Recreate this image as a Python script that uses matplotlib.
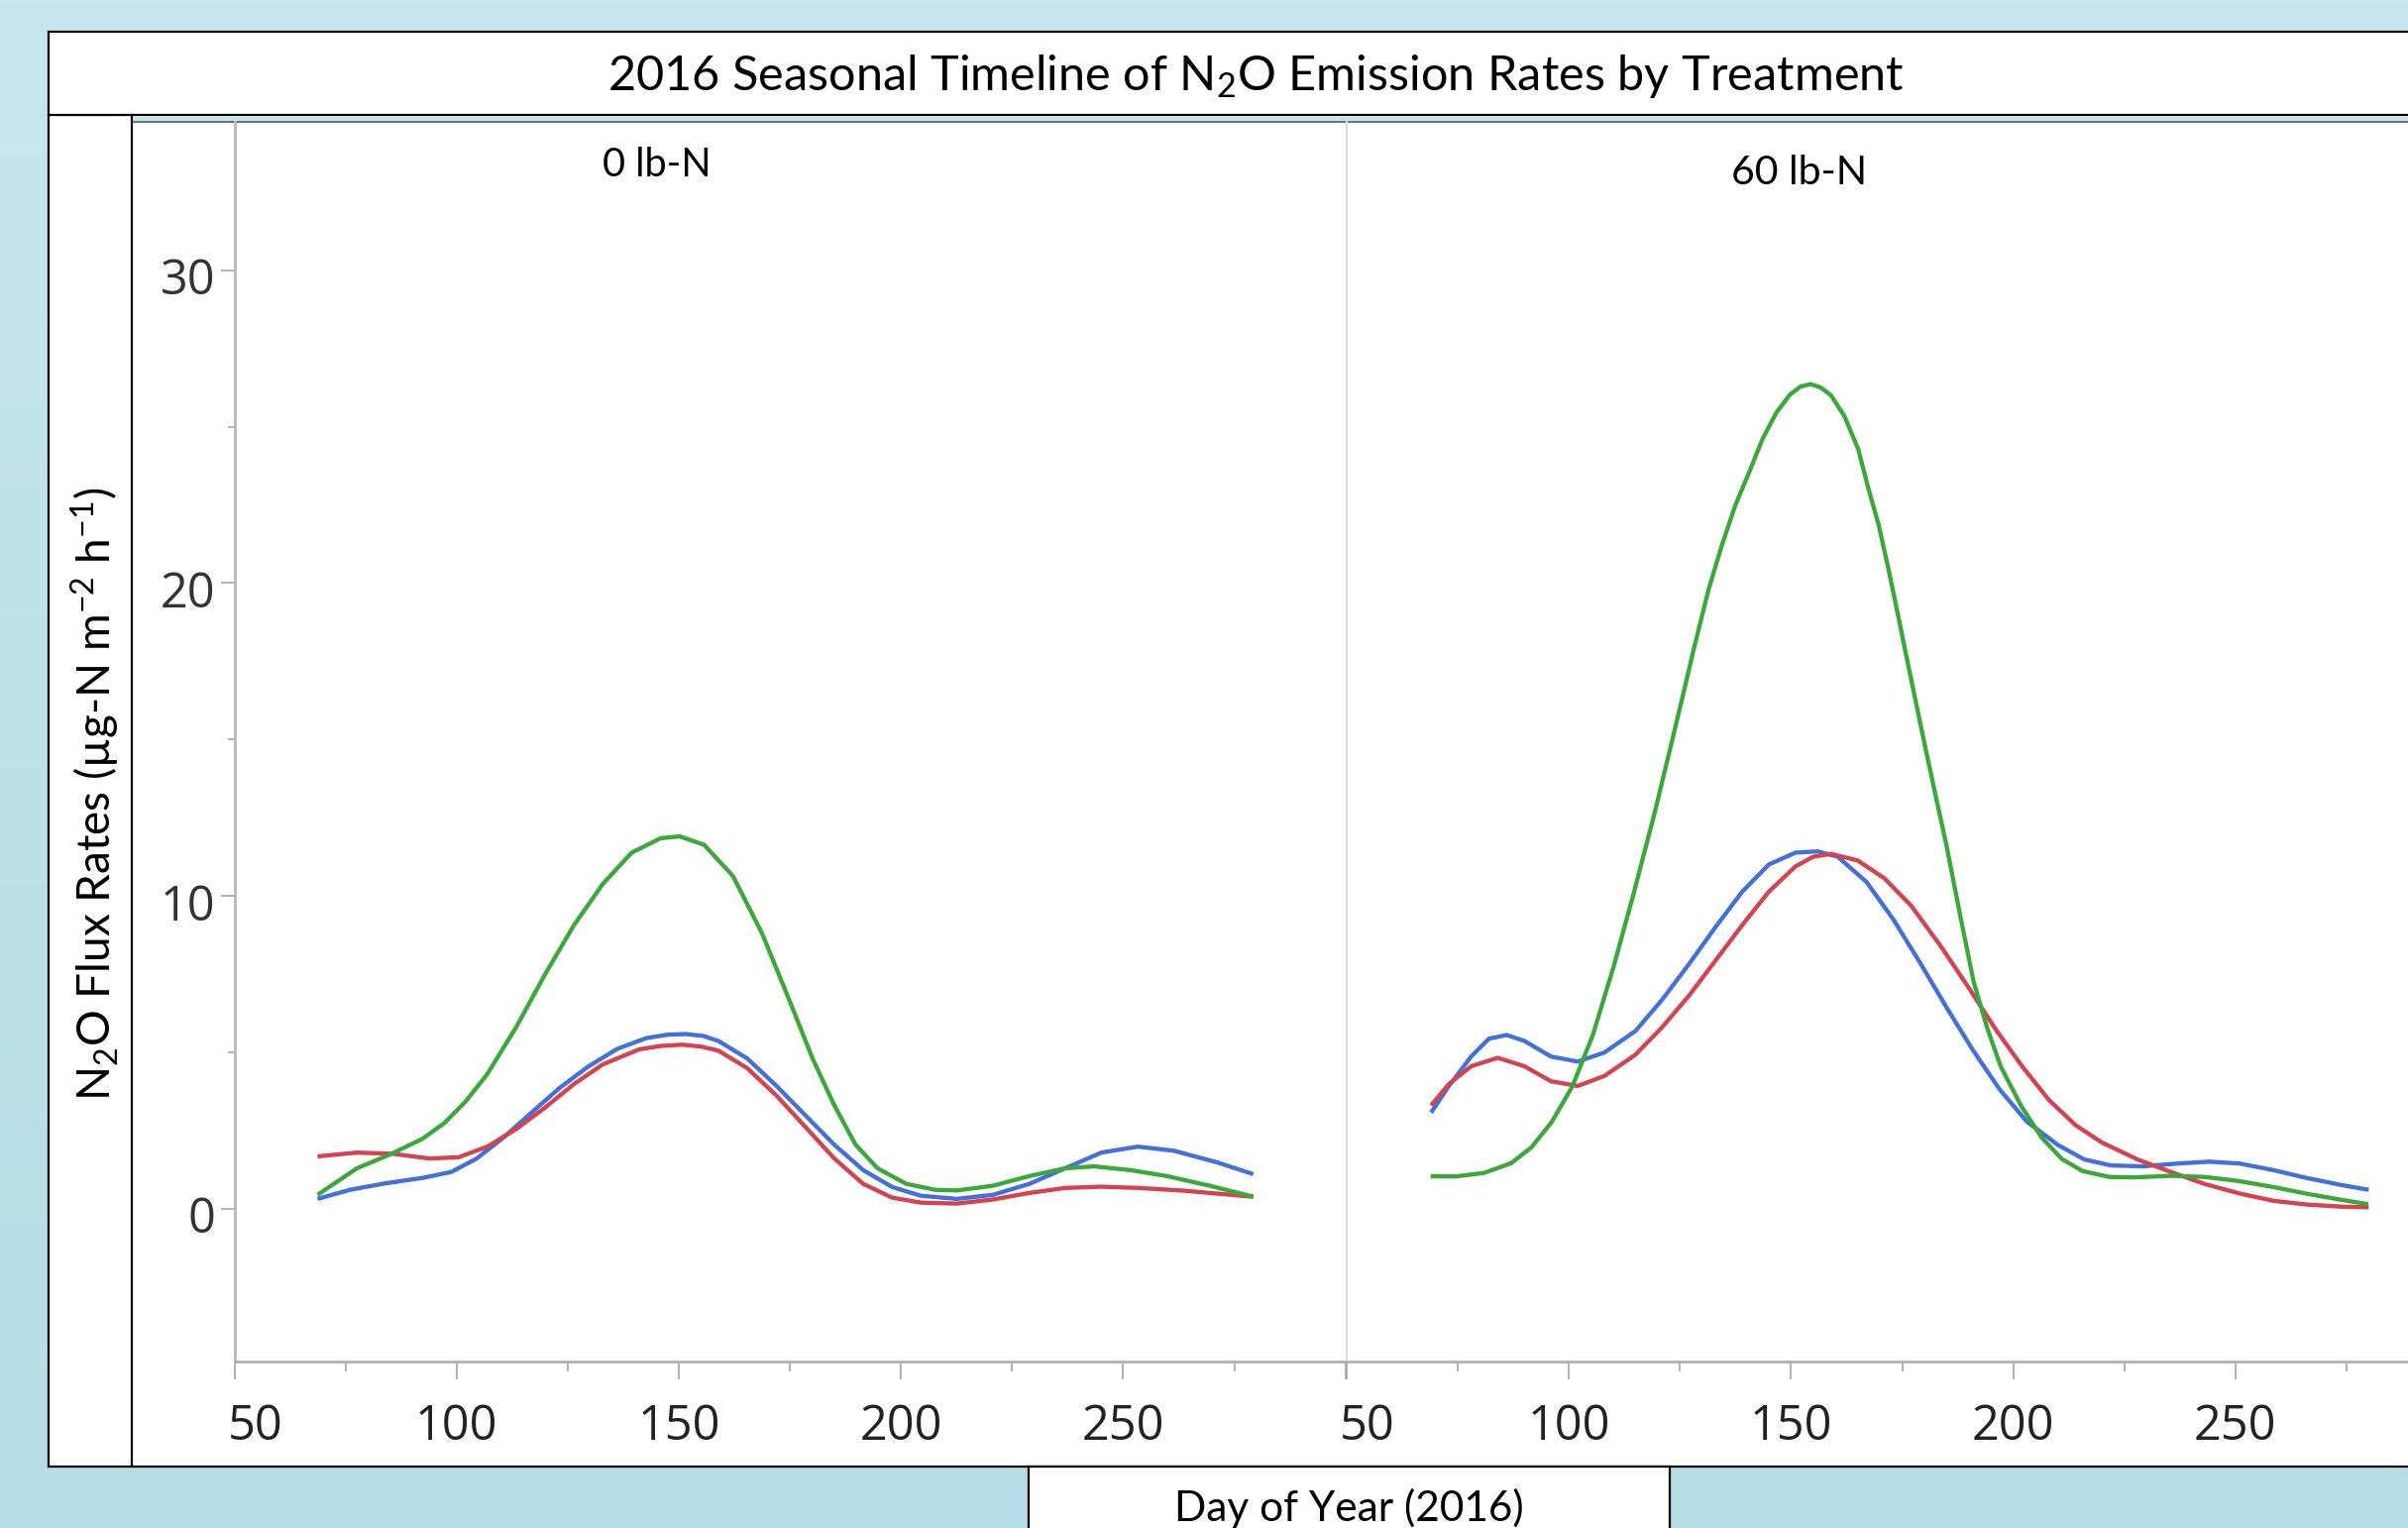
import numpy as np
import matplotlib.pyplot as plt
from matplotlib.patches import Rectangle
from matplotlib.lines import Line2D
from matplotlib.colors import LinearSegmentedColormap
from matplotlib.transforms import ScaledTranslation

# --- data (day of year, flux) ---
# 0 lb-N panel
day0_blue = [68.7, 76, 84.1, 92.3, 98.8, 104.5, 110.2, 116.7, 123.2, 129.7, 136.2, 142.7, 147.5, 151.6,
             155.5, 158.9, 165.4, 172, 178.5, 185, 191.5, 198, 204.5, 212.6, 220.7, 228.9, 237, 245.1,
             253.3, 261.4, 271.1, 279.3]
flux0_blue = [0.31, 0.6, 0.81, 0.98, 1.17, 1.6, 2.23, 3.05, 3.86, 4.55, 5.11, 5.45, 5.56, 5.58,
              5.52, 5.36, 4.8, 3.92, 2.98, 2.04, 1.23, 0.69, 0.41, 0.31, 0.44, 0.79, 1.29, 1.79,
              1.98, 1.85, 1.48, 1.1]

day0_red = [68.7, 77.6, 85.8, 93.9, 100.4, 106.9, 113.4, 119.9, 126.4, 132.9, 141.1, 146, 150.8,
            155, 158.9, 165.4, 172, 178.5, 185, 191.5, 198, 204.5, 212.6, 220.7, 228.9, 237, 245.1,
            253.3, 263, 271.1, 279.3]
flux0_red = [1.67, 1.79, 1.75, 1.6, 1.64, 1.98, 2.54, 3.23, 3.98, 4.61, 5.09, 5.2, 5.24,
             5.18, 5.05, 4.49, 3.61, 2.61, 1.6, 0.79, 0.35, 0.19, 0.16, 0.29, 0.5, 0.66, 0.7,
             0.66, 0.58, 0.48, 0.38]

day0_green = [68.7, 77.6, 85, 92.3, 97.2, 102, 106.9, 113.4, 119.9, 126.4, 132.9, 139.4, 145.9,
              150.2, 155.7, 162.2, 168.7, 175.2, 180.1, 185, 189.8, 194.7, 201.2, 207.7, 212.6,
              220.7, 228.9, 237, 243.5, 251.6, 259.8, 269.5, 279.3]
flux0_green = [0.44, 1.29, 1.73, 2.23, 2.73, 3.42, 4.3, 5.8, 7.49, 9.06, 10.38, 11.38, 11.84,
               11.9, 11.63, 10.63, 8.81, 6.55, 4.8, 3.3, 2.04, 1.29, 0.79, 0.6, 0.58,
               0.73, 1.04, 1.29, 1.35, 1.23, 1.04, 0.73, 0.38]

# 60 lb-N panel
day60_blue = [69, 73, 78, 82, 86, 90, 96, 102, 108, 115, 121, 127, 133, 139, 145, 151, 156,
              160.5, 167, 173, 179, 185, 191, 197, 203, 210, 216, 222, 229, 237, 244, 251,
              258.5, 266, 274, 280]
flux60_blue = [3.07, 3.92, 4.86, 5.43, 5.55, 5.36, 4.86, 4.7, 4.99, 5.68, 6.68, 7.81, 9.0,
               10.13, 11.0, 11.38, 11.42, 11.25, 10.44, 9.25, 7.87, 6.43, 5.05, 3.8, 2.79,
               2.04, 1.57, 1.38, 1.35, 1.44, 1.5, 1.44, 1.23, 0.98, 0.75, 0.6]

day60_red = [69, 73, 78, 84, 90, 96, 102, 108, 115, 121, 127, 133, 139, 145, 151, 155, 159, 165,
             171, 177, 183.5, 190, 196, 202, 208, 214, 220, 228, 235.5, 243, 251, 258.5, 266,
             274, 280]
flux60_red = [3.3, 3.98, 4.55, 4.82, 4.55, 4.07, 3.92, 4.24, 4.92, 5.8, 6.8, 7.93, 9.06,
              10.13, 10.94, 11.25, 11.34, 11.13, 10.56, 9.69, 8.43, 7.06, 5.74, 4.55, 3.48, 2.67,
              2.11, 1.57, 1.17, 0.79, 0.48, 0.25, 0.13, 0.06, 0.04]

day60_green = [68.9, 74.7, 80.9, 87, 91.6, 96.2, 100.8, 105.4, 110, 114.5, 119.3, 122.2, 125.3,
               128.3, 131.4, 134.5, 137.5, 140.6, 143.6, 146.7, 149.8, 152.1, 154.4, 156.7, 159,
               162, 165.1, 167.4, 169.7, 172, 174.3, 175.8, 178.1, 180.4, 182.7, 185, 188.1,
               191.1, 194.2, 197.2, 201.8, 206.4, 211, 215.6, 221.7, 227.9, 235.5, 243.2, 250.8,
               258.5, 266.2, 273.8, 279.9]
flux60_green = [1.03, 1.03, 1.14, 1.45, 1.96, 2.78, 3.91, 5.55, 7.7, 10.03, 12.65, 14.35, 16.19,
                18.0, 19.77, 21.24, 22.5, 23.55, 24.61, 25.45, 26.03, 26.28, 26.36, 26.25, 26.0,
                25.34, 24.29, 23.03, 21.87, 20.4, 18.82, 17.77, 16.19, 14.62, 13.1, 11.6, 9.35,
                7.25, 5.75, 4.54, 3.28, 2.27, 1.58, 1.2, 1.01, 1.0, 1.05, 1.01, 0.88,
                0.69, 0.47, 0.28, 0.14]

panel_titles = ['0 lb-N', '60 lb-N']
x_major = [50, 100, 150, 200, 250, 300]
x_labels = ['50', '100', '150', '200', '250', '']
x_minor = [75, 125, 175, 225, 275]
y_major = [0, 10, 20, 30]
y_minor = [5, 15, 25]

RED, BLUE, GREEN = '#d4434f', '#4270dc', '#3aa93a'
LATO = ['Lato', 'DejaVu Sans']

plt.rcParams['font.family'] = ['Open Sans', 'DejaVu Sans']
plt.rcParams['mathtext.fontset'] = 'custom'
plt.rcParams['mathtext.rm'] = 'Lato'
plt.rcParams['mathtext.default'] = 'regular'

W, H = 2430, 1542


def fx(px):
    return px / W


def fy(py):
    return 1 - py / H


fig = plt.figure(figsize=(W / 100, H / 100), dpi=100)

# slide background (soft vertical gradient)
bg = fig.add_axes([0, 0, 1, 1], zorder=-20)
grad = np.linspace(0, 1, 256).reshape(-1, 1)
bg.imshow(grad, aspect='auto', extent=[0, 1, 0, 1], origin='upper',
          cmap=LinearSegmentedColormap.from_list('bg', ['#c9e6ed', '#b6dce5']))
bg.set_axis_off()

# white report frame
fig.add_artist(Rectangle((fx(49), fy(1480)), 1.1, fy(32) - fy(1480), transform=fig.transFigure,
                         facecolor='white', edgecolor='black', lw=1.6, zorder=-10))
fig.add_artist(Line2D([fx(49), 1.01], [fy(116), fy(116)], transform=fig.transFigure,
                      color='black', lw=1.6, zorder=-9))
fig.add_artist(Line2D([fx(133), fx(133)], [fy(116), fy(1480)], transform=fig.transFigure,
                      color='black', lw=1.6, zorder=-9))
fig.add_artist(Rectangle((fx(134), fy(121.5)), 1, fy(117.5) - fy(121.5), transform=fig.transFigure,
                         facecolor='#c4e3eb', edgecolor='none', zorder=-9))
fig.add_artist(Line2D([fx(134), 1.01], [fy(122.5), fy(122.5)], transform=fig.transFigure,
                      color='#555555', lw=1.2, zorder=-9))
# box under the x label
fig.add_artist(Rectangle((fx(1038), fy(1600)), fx(1685) - fx(1038), fy(1480) - fy(1600),
                         transform=fig.transFigure, facecolor='white', edgecolor='black',
                         lw=1.6, zorder=-8))

ax_h = (1374 - 122.5) / H
axL = fig.add_axes([fx(236.6), fy(1374), 1121 / W, ax_h])
axR = fig.add_axes([fx(1359), fy(1374), 1121 / W, ax_h])

series = [
    (axL, [(day0_blue, flux0_blue, BLUE), (day0_red, flux0_red, RED), (day0_green, flux0_green, GREEN)]),
    (axR, [(day60_blue, flux60_blue, BLUE), (day60_red, flux60_red, RED), (day60_green, flux60_green, GREEN)]),
]
for ax, lines in series:
    for d, v, c in lines:
        ax.plot(d, v, color=c, lw=3.1, solid_joinstyle='round', solid_capstyle='butt')

for ax in (axL, axR):
    ax.set_facecolor('none')
    ax.set_xlim(50, 300)
    ax.set_ylim(-4.89, 34.76)
    ax.spines['top'].set_visible(False)
    ax.spines['right'].set_visible(False)
    ax.spines['bottom'].set_color('#b0b0b0')
    ax.spines['bottom'].set_linewidth(2)
    ax.set_xticks(x_major)
    ax.set_xticklabels(x_labels)
    ax.set_xticks(x_minor, minor=True)
    ax.tick_params(axis='x', which='major', length=13, width=1.2, color='#a6a6a6',
                   pad=17, labelsize=35, labelcolor='#222222')
    ax.tick_params(axis='x', which='minor', length=7, width=1.2, color='#a6a6a6')

axL.spines['left'].set_color('#b8b8b8')
axL.spines['left'].set_linewidth(2)
axL.set_yticks(y_major)
axL.set_yticks(y_minor, minor=True)
axL.tick_params(axis='y', which='major', length=10, width=1.2, color='#a6a6a6',
                pad=4, labelsize=35, labelcolor='#333333')
axL.tick_params(axis='y', which='minor', length=5, width=1.2, color='#a6a6a6')
for lab in axL.get_yticklabels():
    lab.set_transform(lab.get_transform() + ScaledTranslation(0, -6 / 100, fig.dpi_scale_trans))

axR.spines['left'].set_color('#dddddd')
axR.spines['left'].set_linewidth(1.5)
axR.set_yticks([])
axR.set_yticks([], minor=True)

# first label of each panel starts at its tick
for ax in (axL, axR):
    lab = ax.get_xticklabels()[0]
    lab.set_horizontalalignment('left')
    lab.set_transform(lab.get_transform() + ScaledTranslation(-7 / 100, 0, fig.dpi_scale_trans))

fig.text(fx(1267), fy(77), r'2016 Seasonal Timeline of N$_2$O Emission Rates by Treatment',
         ha='center', va='center', fontsize=35, family=LATO, color='black')
fig.text(fx(663), fy(166), panel_titles[0], ha='center', va='center', fontsize=28.5,
         family=LATO, color='black')
fig.text(fx(1816), fy(175), panel_titles[1], ha='center', va='center', fontsize=29.5,
         family=LATO, color='black')
fig.text(fx(96), fy(801), r'N$_2$O Flux Rates (µg-N m$^{-2}$ h$^{-1}$)', rotation=90,
         ha='center', va='center', fontsize=33, family=LATO, color='black')
fig.text(fx(1361), fy(1522), 'Day of Year (2016)', ha='center', va='center', fontsize=30.5,
         family=LATO, color='black')

fig.savefig('out.png', dpi=100)
